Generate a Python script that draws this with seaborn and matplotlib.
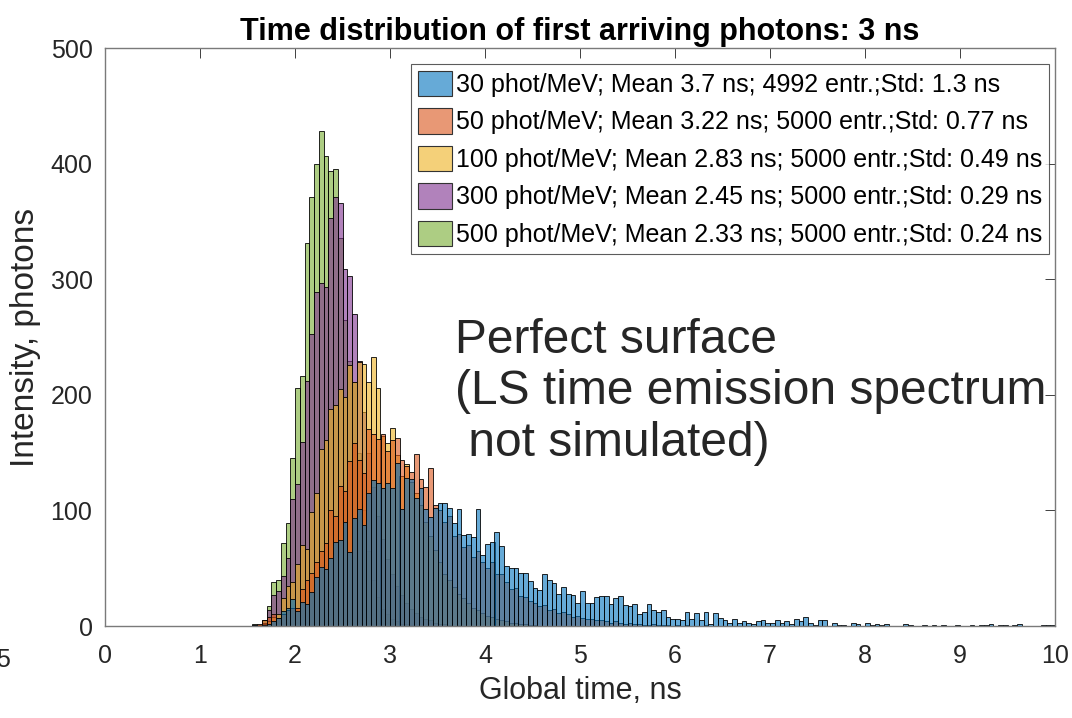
import numpy as np
import pandas as pd
import matplotlib
matplotlib.use("Agg")
import matplotlib.pyplot as plt
from matplotlib.patches import Patch
import seaborn as sns

# ---------------- data (bin counts, bins of 0.05 ns starting at 1.55 ns) ----------------
BIN_START = 1.55
BIN_WIDTH = 0.05

labels = [
    "30 phot/MeV; Mean 3.7 ns; 4992 entr.;Std: 1.3 ns",
    "50 phot/MeV; Mean 3.22 ns; 5000 entr.;Std: 0.77 ns",
    "100 phot/MeV; Mean 2.83 ns; 5000 entr.;Std: 0.49 ns",
    "300 phot/MeV; Mean 2.45 ns; 5000 entr.;Std: 0.29 ns",
    "500 phot/MeV; Mean 2.33 ns; 5000 entr.;Std: 0.24 ns",
]

counts_30 = [
    1, 0, 1, 2, 4, 7, 13, 16, 23, 13,
    21, 19, 29, 42, 51, 49, 59, 73, 74, 90,
    64, 93, 101, 87, 115, 126, 124, 119, 124, 119,
    141, 101, 128, 127, 111, 119, 101, 94, 102, 106,
    106, 102, 89, 101, 79, 80, 77, 101, 61, 71,
    73, 81, 69, 52, 50, 50, 46, 46, 39, 33,
    31, 45, 40, 37, 28, 34, 28, 27, 20, 30,
    20, 20, 25, 26, 26, 19, 24, 26, 18, 17,
    19, 10, 12, 19, 14, 12, 14, 8, 6, 6, 5, 12,
    6, 11, 5, 12, 2, 11, 7, 5, 3, 6,
    3, 4, 3, 2, 4, 5, 3, 3, 5, 3,
    4, 2, 6, 4, 8, 3, 1, 5, 5, 0,
    3, 1, 1, 0, 3, 2, 0, 3, 1, 2,
    1, 2, 0, 0, 0, 2, 1, 0, 0, 1,
    0, 1, 0, 1, 0, 0, 1, 0, 0, 1,
    0, 1, 1, 2, 0, 1, 1, 0, 1, 2,
    0, 0, 0, 0, 1, 1, 1,
]

counts_50 = [
    1, 2, 5, 8, 10, 7, 10, 14, 16, 16,
    32, 40, 46, 55, 65, 72, 100, 95, 121, 117,
    143, 158, 144, 132, 170, 166, 162, 166, 151, 161,
    163, 144, 138, 133, 149, 127, 120, 137, 105, 100,
    90, 95, 78, 80, 68, 70, 60, 65, 55, 50,
    55, 45, 45, 38, 32, 33, 26, 25, 22, 20,
    17, 18, 14, 15, 11, 12, 10, 8, 9, 7,
    6, 6, 5, 5, 4, 3, 4, 3, 2, 3,
    2, 2, 1, 1, 2, 1, 1, 1, 0, 1,
    0, 1, 0, 0, 0, 1,
]

counts_100 = [
    0, 1, 2, 4, 8, 10, 24, 35, 38, 54,
    70, 67, 99, 115, 153, 161, 188, 191, 205, 198,
    226, 211, 228, 227, 211, 233, 206, 164, 158, 171,
    148, 130, 140, 125, 115, 105, 90, 78, 66, 55,
    45, 40, 34, 28, 24, 20, 16, 14, 11, 9,
    8, 6, 5, 4, 3, 3, 2, 2, 1, 1,
]

counts_300 = [
    1, 0, 3, 14, 27, 30, 43, 59, 110, 123,
    159, 212, 253, 289, 297, 293, 353, 371, 366, 309,
    303, 270, 229, 185, 150, 120, 95, 75, 58, 45,
    35, 27, 20, 15, 11, 8, 6, 5, 3, 2,
    2, 1, 0, 1,
]

counts_500 = [
    2, 0, 5, 17, 38, 40, 72, 89, 145, 206,
    216, 331, 371, 400, 428, 407, 394, 395, 336, 265,
    229, 211, 150, 100, 65, 40, 25, 15, 10, 6,
    4, 2, 2, 1,
]

all_counts = [counts_30, counts_50, counts_100, counts_300, counts_500]
colors = [
    (0.000, 0.447, 0.741),
    (0.850, 0.325, 0.098),
    (0.929, 0.694, 0.125),
    (0.494, 0.184, 0.556),
    (0.466, 0.674, 0.188),
]
FACE_ALPHA = 0.6

x_ticks = list(range(0, 11))
y_ticks = [0, 100, 200, 300, 400, 500]

# ---------------- plotting ----------------
sns.set_style("white")
plt.rcParams["font.family"] = ["Liberation Sans", "DejaVu Sans"]
plt.rcParams["text.color"] = "#262626"

fig = plt.figure(figsize=(10.72, 7.18), dpi=100)
ax = fig.add_axes([105 / 1072, 92 / 718, 950 / 1072, 578 / 718])

# the 500 phot/MeV histogram lies at the bottom, the 30 phot/MeV one on top
for counts, col in reversed(list(zip(all_counts, colors))):
    n = len(counts)
    df = pd.DataFrame({
        "t": BIN_START + BIN_WIDTH * (np.arange(n) + 0.5),
        "n": np.asarray(counts, dtype=float),
    })
    sns.histplot(data=df, x="t", weights="n", binwidth=BIN_WIDTH,
                 binrange=(BIN_START, BIN_START + BIN_WIDTH * n), ax=ax,
                 color=col, alpha=FACE_ALPHA, edgecolor=(0, 0, 0, 0.85),
                 linewidth=0.7, element="bars", fill=True)

ax.set_xlim(0, 10)
ax.set_ylim(0, 500)
ax.set_xticks(x_ticks)
ax.set_yticks(y_ticks)
ax.set_xticklabels([str(v) for v in x_ticks])
ax.set_yticklabels([str(v) for v in y_ticks])

ax.tick_params(axis="both", direction="in", length=7, width=0.7, color="#404040",
               labelsize=18, labelcolor="#262626", top=True, right=True)
ax.tick_params(axis="x", pad=13)
ax.tick_params(axis="y", pad=9)
for sp in ax.spines.values():
    sp.set_color("#7a7a7a")
    sp.set_linewidth(1.0)

ax.set_xlabel("Global time, ns", fontsize=22, color="#262626", labelpad=6)
ax.set_ylabel("Intensity, photons", fontsize=24, color="#262626", labelpad=7)
ax.set_title("Time distribution of first arriving photons: 3 ns", fontsize=22,
             fontweight="bold", color="black", pad=6)

handles = [Patch(facecolor=(*c, FACE_ALPHA), edgecolor="#333333", linewidth=0.8) for c in colors]
leg = ax.legend(handles, labels, loc="upper right", bbox_to_anchor=(0.9935, 0.973),
                frameon=True, fancybox=False, handlelength=1.36,
                handleheight=1.2, handletextpad=0.15, labelspacing=0.45,
                borderpad=0.28, borderaxespad=0.0,
                prop={"family": ["Liberation Sans", "DejaVu Sans"], "size": 18})
leg.get_frame().set_edgecolor("#333333")
leg.get_frame().set_linewidth(0.8)
for t in leg.get_texts():
    t.set_color("black")

ax.text(0.368, 0.405, "Perfect surface\n(LS time emission spectrum\n not simulated)",
        transform=ax.transAxes, ha="left", va="center", fontsize=34.5,
        color="#262626", linespacing=1.18)

fig.text(-0.004, 0.081, "5", fontsize=18, color="#262626", ha="left", va="center")

fig.savefig("out.png", dpi=100)
